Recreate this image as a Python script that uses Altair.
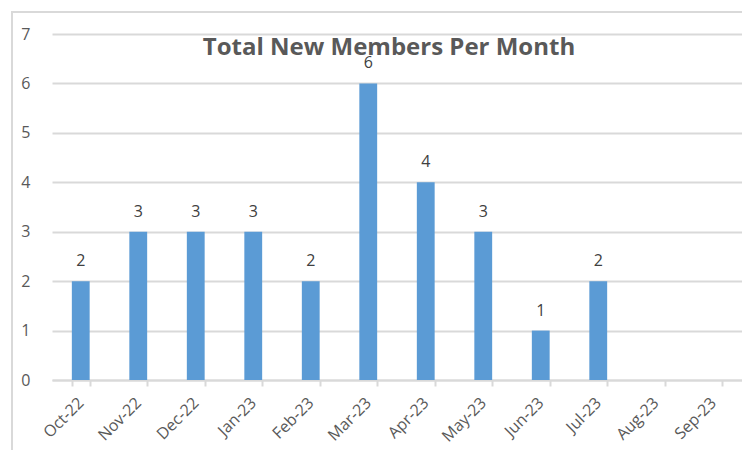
import altair as alt
import pandas as pd

months = ["Oct-22", "Nov-22", "Dec-22", "Jan-23", "Feb-23", "Mar-23",
          "Apr-23", "May-23", "Jun-23", "Jul-23", "Aug-23", "Sep-23"]
members = [2, 3, 3, 3, 2, 6, 4, 3, 1, 2, None, None]
title_text = "Total New Members Per Month"

df = pd.DataFrame({"month": months, "members": members})

W, H = 690, 346
FONT = "Open Sans"
GRAY = "#595959"

x = alt.X("month:N", sort=months, title=None,
          scale=alt.Scale(paddingInner=0.69, paddingOuter=0.345),
          axis=alt.Axis(labelAngle=-45, labelAlign="right", labelBaseline="middle",
                        labelFont=FONT, labelFontSize=16, labelColor=GRAY,
                        labelPadding=14, domainColor="#d9d9d9", domainWidth=2,
                        tickColor="#d9d9d9", tickWidth=2, tickSize=6,
                        tickBand="extent", grid=False))
y = alt.Y("members:Q", title=None,
          scale=alt.Scale(domain=[0, 7], nice=False),
          axis=alt.Axis(values=list(range(8)), labelFont=FONT, labelFontSize=16,
                        labelColor=GRAY, labelPadding=22, domain=False, ticks=False,
                        gridColor="#d9d9d9", gridWidth=2))

base = alt.Chart(df)
bars = base.mark_bar(color="#5b9bd5").encode(x=x, y=y)
labels = base.mark_text(dy=-20, font=FONT, fontSize=16, color="#404040").encode(
    x=alt.X("month:N", sort=months), y="members:Q", text="members:Q")

title = alt.Chart(pd.DataFrame({"t": [title_text]})).mark_text(
    font=FONT, fontSize=24, fontWeight="bold", color=GRAY, baseline="alphabetic"
).encode(x=alt.value(337), y=alt.value(21), text="t:N")

border = alt.Chart(pd.DataFrame({"a": [0]})).mark_rect(
    fill=None, stroke="#d9d9d9", strokeWidth=2
).encode(x=alt.value(-40), x2=alt.value(696), y=alt.value(-22), y2=alt.value(440))

chart = alt.layer(border, bars, labels, title).properties(
    width=W, height=H,
    autosize=alt.AutoSizeParams(type="none"),
    padding={"left": 44, "top": 26, "right": 0, "bottom": 70},
).configure_view(stroke=None)

chart.save("out.html", embed_options={"renderer": "svg", "actions": False})
